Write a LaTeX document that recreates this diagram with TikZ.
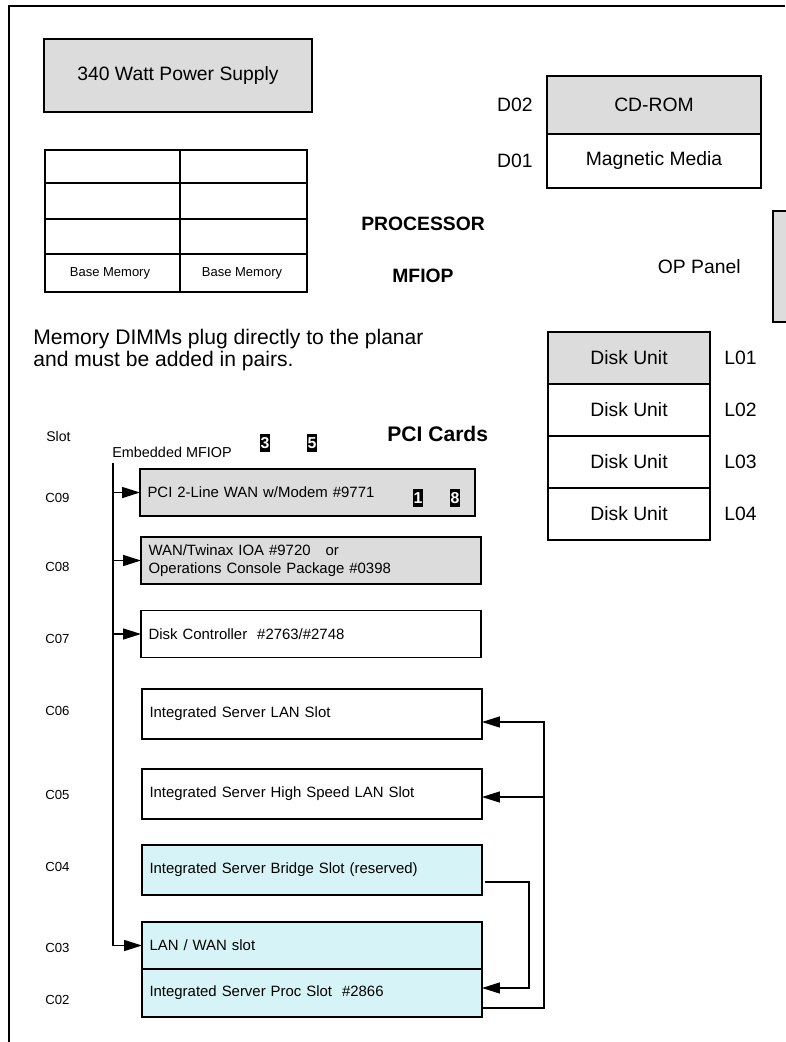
\documentclass[tikz,border=0pt]{standalone}
\usepackage{fontspec}
\setmainfont{Liberation Sans}
\usepackage{tikz}
\usetikzlibrary{positioning,calc,arrows.meta}
\definecolor{boxGray}{RGB}{220,220,220}
\definecolor{dotCyan}{RGB}{214,244,247}
\tikzset{
  unitBox/.style={
    rectangle,
    draw=black,
    line width=1.1pt,
    outer sep=0pt,
    align=center,
    font=\fontsize{11}{13}\selectfont
  },
  cardBox/.style={
    rectangle,
    draw=black,
    line width=1.1pt,
    outer sep=0pt,
    minimum width=6.8cm,
    text width=6.5cm,
    inner xsep=0.15cm,
    minimum height=0.94cm,
    align=left,
    font=\fontsize{8.5}{10.2}\selectfont
  },
  grayCard/.style={
    cardBox,
    fill=boxGray
  },
  dotCard/.style={
    cardBox,
    fill=dotCyan
  },
  slotLabel/.style={
    anchor=west,
    inner sep=0pt,
    font=\fontsize{7.5}{9}\selectfont
  },
  plainLabel/.style={
    inner sep=0pt,
    font=\fontsize{11}{13}\selectfont
  },
  boldLabel/.style={
    anchor=west,
    inner sep=0pt,
    font=\fontsize{11}{13}\bfseries
  },
  badge/.style={
    fill=black,
    text=white,
    inner xsep=0.4pt,
    inner ysep=2pt,
    font=\fontsize{9}{9}\bfseries
  },
  gridLine/.style={
    line width=0.9pt
  },
  busLine/.style={
    line width=0.8pt
  },
  busArrow/.style={
    -{Triangle[length=3.6mm,width=2.2mm]},
    line width=0.8pt
  }
}

\begin{document}
\begin{tikzpicture}[x=0.02cm,y=-0.02cm]
  \useasboundingbox (0,0) rectangle (785,1042);
  \draw[line width=1.1pt] (9,1042) -- (9,6) -- (785,6);

  % power supply and memory
  \node[unitBox, fill=boxGray, minimum width=5.36cm, minimum height=1.46cm] (power) at (178,75.5) {340 Watt Power Supply};

  \draw[gridLine] (45,150) rectangle (307,292);
  \draw[gridLine] (180,150) -- (180,292);
  \foreach \y in {183,219,254}
    \draw[gridLine] (45,\y) -- (307,\y);
  \node[font=\fontsize{7.4}{9}\selectfont] (baseMemL) at (110,273) {Base Memory};
  \node[font=\fontsize{7.4}{9}\selectfont] (baseMemR) at (242,273) {Base Memory};

  \node[boldLabel] (processor) at (361,224) {PROCESSOR};
  \node[boldLabel] (mfiop) at (392,276) {MFIOP};

  \node[anchor=west, inner sep=0pt, align=left, font=\fontsize{12}{12}\selectfont] (dimmNote) at (33,350)
    {Memory DIMMs plug directly to the planar\\and must be added in pairs.};

  % media bays
  \node[unitBox, fill=boxGray, minimum width=4.28cm, minimum height=1.16cm] (cdrom) at (654,105) {CD-ROM};
  \node[unitBox, fill=white, minimum width=4.28cm, minimum height=1.08cm, below=0pt of cdrom] (magMedia) {Magnetic Media};
  \node[plainLabel, left=0.28cm of cdrom] (d02) {D02};
  \node[plainLabel, left=0.28cm of magMedia] (d01) {D01};

  % operator panel
  \node[unitBox, fill=boxGray, minimum width=1cm, minimum height=2.22cm] (opPanel) at (798,266.5) {};
  \node[plainLabel, left=0.64cm of opPanel] (opLabel) {OP Panel};

  % disk units
  \node[unitBox, fill=boxGray, minimum width=3.24cm, minimum height=1.04cm] (disk1) at (629,358) {Disk Unit};
  \node[unitBox, minimum width=3.24cm, minimum height=1.04cm, below=0pt of disk1] (disk2) {Disk Unit};
  \node[unitBox, minimum width=3.24cm, minimum height=1.04cm, below=0pt of disk2] (disk3) {Disk Unit};
  \node[unitBox, minimum width=3.24cm, minimum height=1.04cm, below=0pt of disk3] (disk4) {Disk Unit};
  \foreach \i in {1,...,4}
    \node[plainLabel, right=0.28cm of disk\i] (l0\i) {L0\i};

  % PCI cards
  \node[slotLabel, font=\fontsize{8}{9}\selectfont] (slotHead) at (46,436) {Slot};
  \node[slotLabel, font=\fontsize{8.2}{9}\selectfont] (embedded) at (112,452) {Embedded MFIOP};
  \node[boldLabel, font=\fontsize{12}{14}\bfseries] (pciHead) at (387,434) {PCI Cards};
  \node[badge] (badge3) at (265,443) {3};
  \node[badge] (badge5) at (312,443) {5};

  \node[grayCard, minimum width=6.7cm, text width=6.4cm] (c09) at (307.5,492.5) {PCI 2-Line WAN w/Modem \#9771};
  \node[grayCard] (c08) at (311,560.5) {WAN/Twinax IOA \#9720\ \ \ or\\Operations Console Package \#0398};
  \node[cardBox] (c07) at (311,634) {Disk Controller\ \ \#2763/\#2748};
  \node[cardBox, minimum height=1cm] (c06) at (312,714) {Integrated Server LAN Slot};
  \node[cardBox, minimum height=1cm] (c05) at (312,794) {Integrated Server High Speed LAN Slot};
  \node[dotCard, minimum height=1cm] (c04) at (312,870) {Integrated Server Bridge Slot (reserved)};
  \node[dotCard] (c03) at (312,945.5) {LAN / WAN slot};
  \node[dotCard, minimum height=0.96cm, below=0pt of c03] (c02) {Integrated Server Proc Slot\ \ \#2866};

  \node[badge] (badge1) at (418,498) {1};
  \node[badge] (badge8) at (455,498) {8};

  \foreach \s/\y in {09/498,08/567,07/639,06/711,05/795,04/867,03/948,02/1000}
    \node[slotLabel] (slotC\s) at (45,\y) {C\s};

  % MFIOP bus
  \coordinate (busTop) at (113,463);
  \draw[busLine] (busTop) |- (c03.west);
  \draw[busArrow] (busTop |- c03.west) -- (c03.west);
  \draw[busArrow] (busTop |- c09.west) -- (c09.west);
  \draw[busArrow] (busTop |- c08.west) -- (c08.west);
  \draw[busArrow] (busTop |- c07.west) -- (c07.west);

  % integrated server links
  \coordinate (outerBus) at (544,722);
  \coordinate (innerBus) at (529,935);
  \draw[busArrow] ([yshift=-3mm]c02.east) -| (outerBus) -- (outerBus -| c06.east);
  \draw[busArrow] (outerBus |- 0,797) -- (c05.east |- 0,797);
  \draw[busArrow] ([xshift=0.6mm,yshift=-2.4mm]c04.east) -| (innerBus) |- ([yshift=1mm]c02.east);
\end{tikzpicture}
\end{document}
